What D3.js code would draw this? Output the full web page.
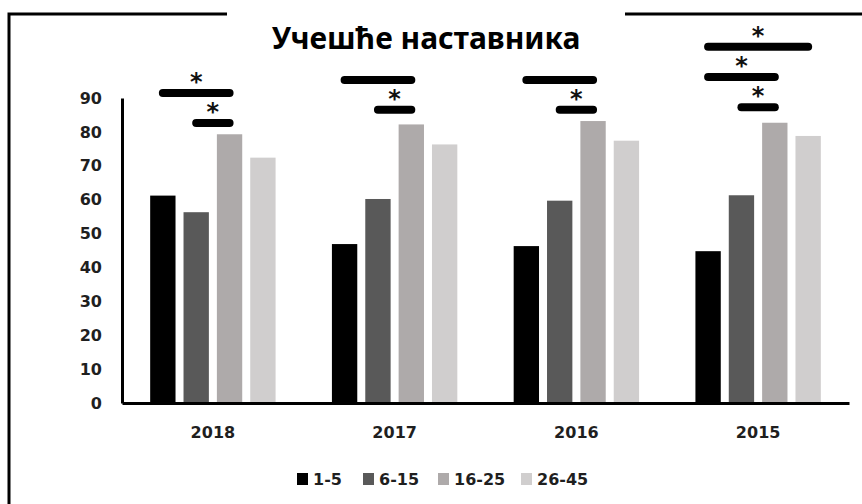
<!DOCTYPE html>
<html lang="sr">
<style>
body { margin: 0; background: white; }
svg { display: block; }
.axis text { font-family: "DejaVu Sans", sans-serif; font-weight: bold; font-size: 16px; fill: #1f1f1f; }
.axis path { stroke: black; stroke-width: 3px; }
.title { font-family: "Noto Sans", sans-serif; font-weight: bold; font-size: 30px; fill: black; }
.legend text { font-family: "DejaVu Sans", sans-serif; font-weight: bold; font-size: 16px; fill: #1f1f1f; }
.star { font-family: "DejaVu Sans", sans-serif; font-weight: bold; font-size: 24px; fill: #111; }
</style>
<body>
<svg width="862" height="504"></svg>
<script src="https://d3js.org/d3.v7.min.js"></script>
<script>
var years = ["2018", "2017", "2016", "2015"];
var groups = ["1-5", "6-15", "16-25", "26-45"];
var colors = ["#000000", "#595959", "#aeaaaa", "#d0cece"];
var yTicks = [0, 10, 20, 30, 40, 50, 60, 70, 80, 90];

// values per age group, one entry per year
var g1_5   = [61.2, 46.9, 46.3, 44.8];
var g6_15  = [56.3, 60.2, 59.7, 61.3];
var g16_25 = [79.3, 82.2, 83.2, 82.7];
var g26_45 = [72.4, 76.3, 77.4, 78.8];
var series = [g1_5, g6_15, g16_25, g26_45];

// significance lines: year, from group, to group, level (value units), star visible
var sigYear  = ["2018", "2018", "2017", "2017", "2016", "2016", "2015", "2015", "2015"];
var sigFrom  = ["1-5", "6-15", "1-5", "6-15", "1-5", "6-15", "1-5", "1-5", "6-15"];
var sigTo    = ["16-25", "16-25", "16-25", "16-25", "16-25", "16-25", "26-45", "16-25", "16-25"];
var sigLevel = [91.5, 82.6, 95.3, 86.5, 95.3, 86.5, 105.1, 96.2, 87.3];
var sigStar  = [true, true, false, true, false, true, true, true, true];

var svg = d3.select("svg");

var y = d3.scaleLinear().domain([0, 90]).range([403, 98]);
var x0 = d3.scaleBand().domain(years).range([122, 849])
    .paddingInner(0.31).paddingOuter(0.155);
var x1 = d3.scaleBand().domain(groups).range([0, x0.bandwidth()]).paddingInner(0.24);

// bars
var barData = [];
years.forEach(function(yr, i) {
    groups.forEach(function(g, j) {
        barData.push({year: yr, group: g, value: series[j][i], color: colors[j]});
    });
});

svg.append("g").selectAll("rect")
    .data(barData)
    .enter().append("rect")
        .attr("x", function(d) { return x0(d.year) + x1(d.group); })
        .attr("y", function(d) { return y(d.value); })
        .attr("width", x1.bandwidth())
        .attr("height", function(d) { return y(0) - y(d.value); })
        .attr("fill", function(d) { return d.color; });

// axes
svg.append("g")
    .attr("class", "axis")
    .attr("transform", "translate(122,0)")
    .call(d3.axisLeft(y).tickValues(yTicks).tickSize(0).tickPadding(20));

svg.append("g")
    .attr("class", "axis")
    .attr("transform", "translate(0," + y(0) + ")")
    .call(d3.axisBottom(x0).tickSize(0).tickPadding(24));

// significance marks
var sigData = sigYear.map(function(yr, i) {
    return {year: yr, from: sigFrom[i], to: sigTo[i], level: sigLevel[i], star: sigStar[i]};
});
function cx(yr, g) { return x0(yr) + x1(g) + x1.bandwidth() / 2; }

var sig = svg.append("g").selectAll("g")
    .data(sigData)
    .enter().append("g");

sig.append("line")
    .attr("x1", function(d) { return cx(d.year, d.from); })
    .attr("x2", function(d) { return cx(d.year, d.to); })
    .attr("y1", function(d) { return y(d.level); })
    .attr("y2", function(d) { return y(d.level); })
    .attr("stroke", "black")
    .attr("stroke-width", 8)
    .attr("stroke-linecap", "round");

sig.filter(function(d) { return d.star; })
  .append("text")
    .attr("class", "star")
    .attr("text-anchor", "middle")
    .attr("x", function(d) { return (cx(d.year, d.from) + cx(d.year, d.to)) / 2; })
    .attr("y", function(d) { return y(d.level) - 3; })
    .text("*");

// frame with white title box over it
svg.append("path")
    .attr("d", "M9,504V14H862")
    .attr("fill", "none")
    .attr("stroke", "black")
    .attr("stroke-width", 3);

svg.append("rect")
    .attr("x", 227).attr("y", 0)
    .attr("width", 398).attr("height", 71)
    .attr("fill", "white");

svg.append("text")
    .attr("class", "title")
    .attr("x", 426).attr("y", 49)
    .attr("text-anchor", "middle")
    .text("Учешће наставника");

// legend
var legend = svg.append("g").attr("class", "legend");
var legendX = [297, 363, 438, 521];
var item = legend.selectAll("g")
    .data(groups)
    .enter().append("g")
    .attr("transform", function(d, i) { return "translate(" + legendX[i] + ",473)"; });
item.append("rect")
    .attr("width", 11).attr("height", 12)
    .attr("fill", function(d, i) { return colors[i]; });
item.append("text")
    .attr("x", 16).attr("y", 12)
    .text(function(d) { return d; });
</script>
</body>
</html>
